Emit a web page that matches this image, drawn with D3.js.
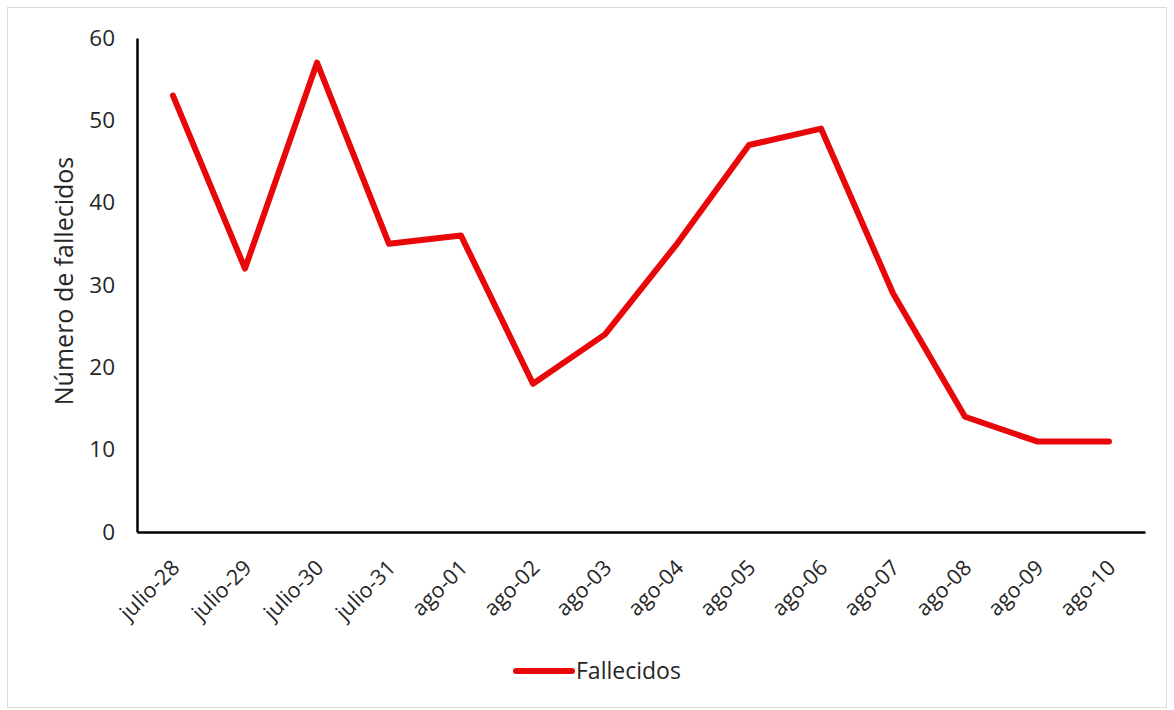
<!DOCTYPE html>
<html><head><meta charset="utf-8">
<script src="https://cdn.jsdelivr.net/npm/d3@7"></script>
<style>body{margin:0;background:#fff}text{font-family:"Open Sans","Lato",sans-serif;fill:#262626}</style>
</head><body><svg id="c" width="1174" height="710"></svg>
<script>
const categories = ["julio-28","julio-29","julio-30","julio-31","ago-01","ago-02","ago-03","ago-04","ago-05","ago-06","ago-07","ago-08","ago-09","ago-10"];
const fallecidos = [53,32,57,35,36,18,24,35,47,49,29,14,11,11];
const yTicks = [0,10,20,30,40,50,60];
const seriesName = "Fallecidos";
const yTitle = "Número de fallecidos";

const svg = d3.select("#c");
svg.append("rect").attr("x",7.5).attr("y",7.5).attr("width",1159).attr("height",700)
  .attr("fill","#fff").attr("stroke","#d9d9d9");
const m = {l:137, r:1145, t:38, b:532};
const x = d3.scaleBand().domain(categories).range([m.l,m.r]);
const y = d3.scaleLinear().domain([0,60]).range([m.b,m.t]);

const ya = svg.append("g").attr("transform",`translate(${m.l},0)`)
  .call(d3.axisLeft(y).tickValues(yTicks).tickSize(0).tickPadding(22));
ya.attr("font-size",null).attr("font-family",null);
ya.select(".domain").attr("stroke","#000").attr("stroke-width",2.5);
ya.selectAll("text").style("font-size","22.5px").attr("fill","#262626");

const xa = svg.append("g").attr("transform",`translate(0,${m.b})`)
  .call(d3.axisBottom(x).tickSize(0).tickPadding(0));
xa.attr("font-size",null).attr("font-family",null);
xa.select(".domain").attr("stroke","#000").attr("stroke-width",2.5);
xa.selectAll("text").style("font-size","21.5px")
  .attr("text-anchor","end").attr("dy",0)
  .attr("transform","translate(8,37) rotate(-45)");

svg.append("text").attr("transform",`translate(73,${(m.t+m.b)/2-4}) rotate(-90)`)
  .attr("text-anchor","middle").style("font-size","25px").text(yTitle);

const line = d3.line().x((d,i)=>x(categories[i])+x.bandwidth()/2).y(d=>y(d));
svg.append("path").datum(fallecidos).attr("d",line).attr("fill","none")
  .attr("stroke","#e8080a").attr("stroke-width",6).attr("stroke-linejoin","round").attr("stroke-linecap","round");

const lg = svg.append("g");
lg.append("line").attr("x1",516).attr("x2",572).attr("y1",671).attr("y2",671)
  .attr("stroke","#e8080a").attr("stroke-width",6).attr("stroke-linecap","round");
lg.append("text").attr("x",576).attr("y",679).style("font-size","23px").text(seriesName);
</script></body></html>
